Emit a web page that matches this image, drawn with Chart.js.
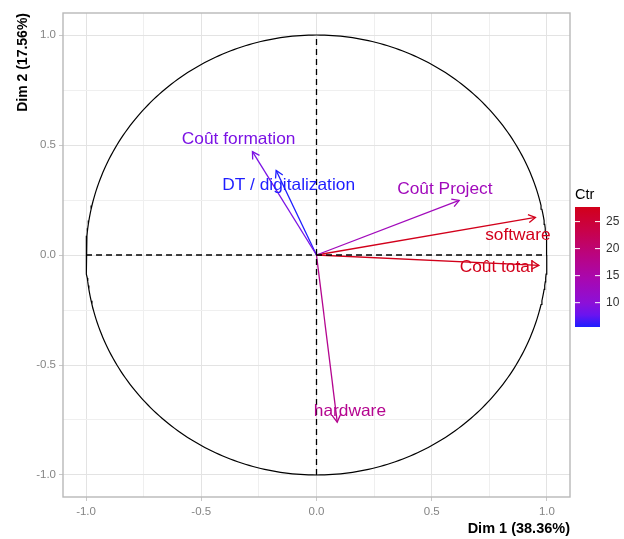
<!DOCTYPE html>
<html>
<head>
<meta charset="utf-8">
<script src="https://cdn.jsdelivr.net/npm/chart.js@4/dist/chart.umd.min.js"></script>
<style>
  html, body { margin: 0; padding: 0; background: #ffffff; }
  #wrap { width: 624px; height: 539px; }
</style>
</head>
<body>
<div id="wrap"><canvas id="c" width="624" height="539"></canvas></div>
<script>
// PCA variables factor map: coordinates on the first two dimensions
const variables = ['Coût formation', 'DT / digitalization', 'Coût Project', 'software', 'Coût total', 'hardware'];
const dim1 = [-0.278, -0.175, 0.619, 0.950, 0.965, 0.090];
const dim2 = [0.470, 0.384, 0.248, 0.171, -0.047, -0.760];
// contribution of each variable to Dim 1-2 (%)
const ctr = [8.8, 5.5, 13.2, 27.6, 27.7, 17.4];
// where each variable name sits (same units as the axes)
const labelDim1 = [-0.338, -0.121, 0.557, 0.874, 0.782, 0.145];
const labelDim2 = [0.523, 0.315, 0.300, 0.088, -0.058, -0.711];

const axisTicks = [-1, -0.75, -0.5, -0.25, 0, 0.25, 0.5, 0.75, 1];
const ctrTicks = [10, 15, 20, 25];
const xTitle = 'Dim 1 (38.36%)';
const yTitle = 'Dim 2 (17.56%)';
const legendTitle = 'Ctr';

// blue -> purple -> red colour ramp for the contribution
const ramp = [
  [0.00, [30, 30, 255]],
  [0.10, [106, 20, 240]],
  [0.20, [140, 16, 216]],
  [0.40, [168, 8, 176]],
  [0.60, [186, 4, 128]],
  [0.80, [200, 2, 74]],
  [1.00, [210, 0, 26]]
];
const ctrMin = Math.min(...ctr), ctrMax = Math.max(...ctr);
function rampColor(t) {
  t = Math.max(0, Math.min(1, t));
  for (let i = 1; i < ramp.length; i++) {
    if (t <= ramp[i][0]) {
      const [t0, c0] = ramp[i - 1], [t1, c1] = ramp[i];
      const f = (t - t0) / (t1 - t0);
      const c = c0.map((v, k) => Math.round(v + (c1[k] - v) * f));
      return `rgb(${c[0]},${c[1]},${c[2]})`;
    }
  }
  return 'rgb(210,0,26)';
}
const ctrColor = v => rampColor((v - ctrMin) / (ctrMax - ctrMin));

// correlation circle
const unitCircle = [];
for (let i = 0; i <= 360; i++) {
  const a = i * Math.PI / 180;
  unitCircle.push({ x: Math.cos(a), y: Math.sin(a) });
}

const lineSet = (data, color, width, dash) => ({
  data, borderColor: color, borderWidth: width, borderDash: dash || [],
  showLine: true, pointRadius: 0, pointHoverRadius: 0, tension: 0, fill: false
});

const datasets = [
  lineSet(unitCircle, '#000000', 1.2),
  lineSet([{ x: -1, y: 0 }, { x: 1, y: 0 }], '#000000', 1.3, [6, 4]),
  lineSet([{ x: 0, y: -1 }, { x: 0, y: 1 }], '#000000', 1.3, [6, 4])
];
variables.forEach((name, i) => {
  const ds = lineSet([{ x: 0, y: 0 }, { x: dim1[i], y: dim2[i] }], ctrColor(ctr[i]), 1.3);
  ds.label = name;
  datasets.push(ds);
});

const arrowsAndLabels = {
  id: 'arrowsAndLabels',
  afterDatasetsDraw(chart) {
    const { ctx, scales: { x, y } } = chart;
    ctx.save();
    variables.forEach((name, i) => {
      const col = ctrColor(ctr[i]);
      const x0 = x.getPixelForValue(0), y0 = y.getPixelForValue(0);
      const x1 = x.getPixelForValue(dim1[i]), y1 = y.getPixelForValue(dim2[i]);
      const ang = Math.atan2(y1 - y0, x1 - x0);
      const len = 8, spread = Math.PI / 6;
      ctx.strokeStyle = col;
      ctx.lineWidth = 1.3;
      ctx.beginPath();
      ctx.moveTo(x1 - len * Math.cos(ang - spread), y1 - len * Math.sin(ang - spread));
      ctx.lineTo(x1, y1);
      ctx.lineTo(x1 - len * Math.cos(ang + spread), y1 - len * Math.sin(ang + spread));
      ctx.stroke();
      // variable name, slightly widened
      const lx = x.getPixelForValue(labelDim1[i]), ly = y.getPixelForValue(labelDim2[i]);
      ctx.save();
      ctx.translate(lx, ly);
      ctx.scale(1.05, 1);
      ctx.fillStyle = col;
      ctx.font = '16.5px "Liberation Sans", Arial, sans-serif';
      ctx.textAlign = 'center';
      ctx.textBaseline = 'middle';
      ctx.fillText(name, 0, 0);
      ctx.restore();
    });
    ctx.restore();
  },
  afterDraw(chart) {
    const { ctx, chartArea: a } = chart;
    ctx.save();
    // panel border
    ctx.strokeStyle = '#b8b8b8';
    ctx.lineWidth = 1.4;
    ctx.strokeRect(a.left, a.top, a.right - a.left, a.bottom - a.top);

    // colour bar legend
    const bx = 575, bw = 25, bTop = 207, bBot = 327;
    const grad = ctx.createLinearGradient(0, bBot, 0, bTop);
    ramp.forEach(([t]) => grad.addColorStop(t, rampColor(t)));
    ctx.fillStyle = grad;
    ctx.fillRect(bx, bTop, bw, bBot - bTop);
    ctx.fillStyle = '#000000';
    ctx.font = '14.5px "Liberation Sans", Arial, sans-serif';
    ctx.textAlign = 'left';
    ctx.textBaseline = 'alphabetic';
    ctx.fillText(legendTitle, bx, 199);
    ctx.font = '12px "Liberation Sans", Arial, sans-serif';
    ctx.textBaseline = 'middle';
    ctrTicks.forEach(v => {
      const ty = bBot - (v - ctrMin) / (ctrMax - ctrMin) * (bBot - bTop);
      ctx.strokeStyle = '#ffffff';
      ctx.lineWidth = 1;
      ctx.beginPath();
      ctx.moveTo(bx, ty); ctx.lineTo(bx + 5, ty);
      ctx.moveTo(bx + bw - 5, ty); ctx.lineTo(bx + bw, ty);
      ctx.stroke();
      ctx.fillStyle = '#333333';
      ctx.fillText(String(v), bx + bw + 6, ty);
    });
    ctx.restore();
  }
};

const isMajor = v => Math.abs(v * 2 - Math.round(v * 2)) < 1e-9;
const axisOptions = (title, isX) => ({
  type: 'linear',
  min: -1.1,
  max: 1.1,
  afterBuildTicks: scale => { scale.ticks = axisTicks.map(v => ({ value: v })); },
  afterFit: scale => { if (isX) scale.height = 42; else scale.width = 63; },
  grid: {
    color: c => isMajor(c.tick.value) ? '#e3e3e3' : '#efefef',
    lineWidth: 1,
    drawTicks: true,
    tickLength: 4,
    tickColor: c => isMajor(c.tick.value) ? '#c8c8c8' : 'rgba(0,0,0,0)'
  },
  border: { display: false },
  ticks: {
    autoSkip: false,
    maxRotation: 0,
    padding: isX ? 4 : 3,
    color: '#858585',
    font: { family: '"Liberation Sans", Arial, sans-serif', size: 11.5 },
    callback: v => isMajor(v) ? v.toFixed(1) : ''
  },
  title: {
    display: true,
    text: title,
    align: 'end',
    color: '#000000',
    font: { family: '"Liberation Sans", Arial, sans-serif', size: isX ? 14.5 : 14, weight: 'bold' },
    padding: isX ? { top: 0, bottom: 1 } : { top: 15, bottom: 0 }
  }
});

new Chart(document.getElementById('c'), {
  type: 'scatter',
  data: { datasets },
  options: {
    responsive: false,
    animation: false,
    layout: { padding: { top: 13, right: 54, left: 0, bottom: 0 } },
    plugins: { legend: { display: false }, tooltip: { enabled: false } },
    scales: { x: axisOptions(xTitle, true), y: axisOptions(yTitle, false) }
  },
  plugins: [arrowsAndLabels]
});
</script>
</body>
</html>
